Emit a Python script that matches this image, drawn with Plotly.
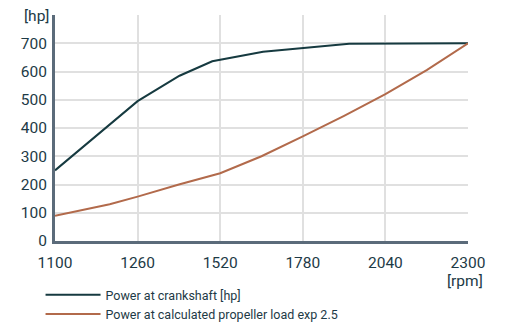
import numpy as np
import plotly.graph_objects as go

# x-axis ticks are evenly spaced though the rpm steps are not
RPM_TICKS = [1100, 1260, 1520, 1780, 2040, 2300]
HP_TICKS = [0, 100, 200, 300, 400, 500, 600, 700, 800]
HP_LABELS = ["0", "100", "200", "300", "400", "500", "600", "700", ""]

crank_rpm = [1100, 1260, 1392, 1495, 1655, 1926, 2300]
crank_hp = [250, 495, 585, 636, 670, 698, 700]

prop_rpm = [1100, 1206, 1260, 1390, 1520, 1650, 1780, 1910, 2040, 2170, 2300]
prop_hp = [89, 130, 157, 200, 240, 300, 370, 443, 520, 605, 700]

DARK = "#163a40"
BROWN = "#b26a4b"
TEXT = "#1d3a46"
FONT = "Roboto"


def to_pos(rpm):
    return np.interp(rpm, RPM_TICKS, list(range(len(RPM_TICKS))))


fig = go.Figure()
fig.add_trace(go.Scatter(
    x=to_pos(crank_rpm), y=crank_hp, mode="lines",
    name="Power at crankshaft [hp]",
    line=dict(color=DARK, width=2),
))
fig.add_trace(go.Scatter(
    x=to_pos(prop_rpm), y=prop_hp, mode="lines",
    name="Power at calculated propeller load exp 2.5",
    line=dict(color=BROWN, width=2),
))

# unit labels
fig.add_annotation(
    text="[hp]", x=0, xref="paper", y=800, yref="y",
    xanchor="right", yanchor="middle", xshift=-4, yshift=-1,
    showarrow=False, font=dict(family=FONT, size=15.5, color=TEXT),
)
fig.add_annotation(
    text="[rpm]", x=5, xref="x", y=0, yref="paper",
    xanchor="center", yanchor="middle", xshift=-3, yshift=-40,
    showarrow=False, font=dict(family=FONT, size=15.5, color=TEXT),
)

# page body has an 8px margin, so the figure is 8px smaller than the window
fig.update_layout(
    width=497, height=317,
    margin=dict(l=47, r=37, t=7, b=84, autoexpand=False),
    paper_bgcolor="white", plot_bgcolor="white",
    font=dict(family=FONT, color=TEXT, size=15.5),
    showlegend=True,
    legend=dict(
        x=-0.035, y=-0.173, xanchor="left", yanchor="top",
        font=dict(size=12.5, color=TEXT),
        itemwidth=55, tracegroupgap=0,
        bgcolor="rgba(0,0,0,0)",
    ),
)
fig.update_xaxes(
    range=[0, 5], tickmode="array",
    tickvals=list(range(len(RPM_TICKS))), ticktext=[str(r) for r in RPM_TICKS],
    showgrid=True, gridcolor="#e0e0e0", gridwidth=1.5,
    showline=True, linecolor="#5b6b7a", linewidth=3,
    zeroline=False, ticks="", ticklabelstandoff=5, automargin=False,
)
fig.update_yaxes(
    range=[0, 800], tickmode="array",
    tickvals=HP_TICKS, ticktext=HP_LABELS,
    showgrid=True, gridcolor="#e0e0e0", gridwidth=1.5,
    showline=True, linecolor="#5b6b7a", linewidth=3,
    zeroline=False, ticks="", ticklabelstandoff=2, automargin=False,
)

fig.write_html("out.html")
